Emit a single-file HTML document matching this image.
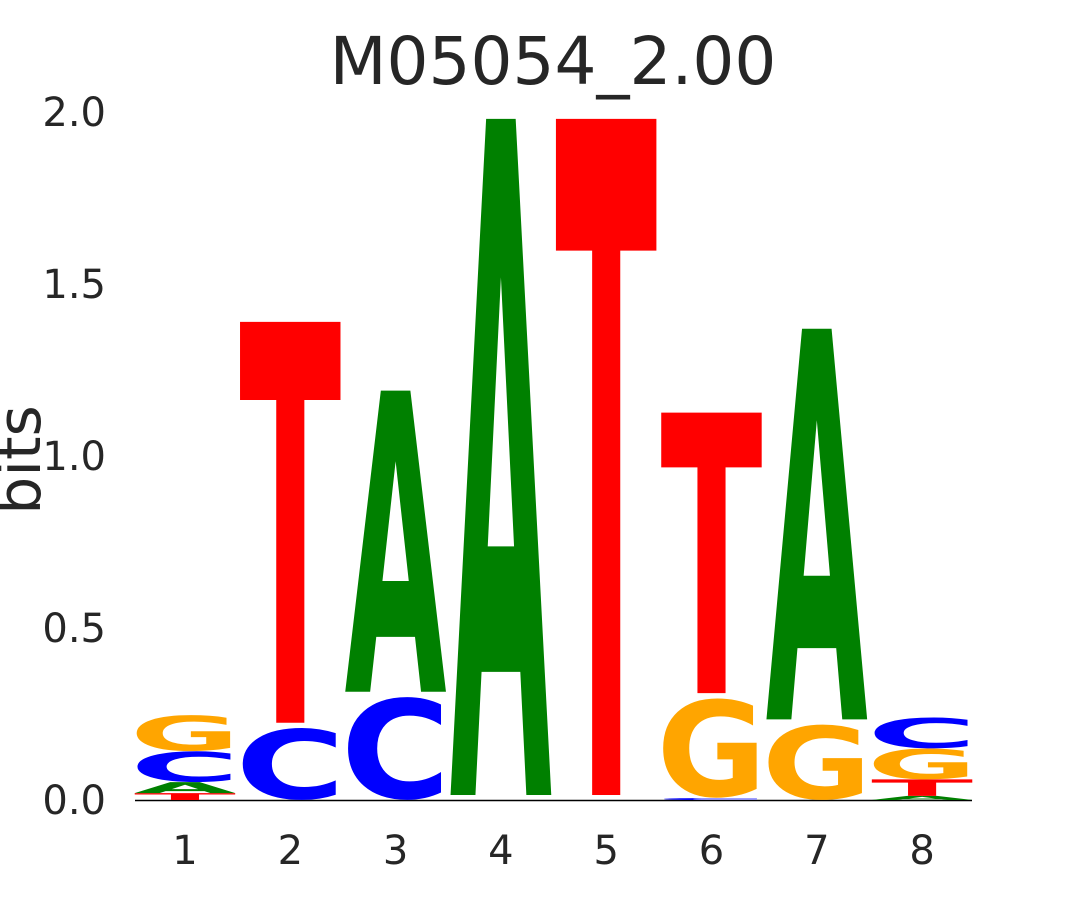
<!DOCTYPE html>
<html><head><meta charset="utf-8"><style>
html,body{margin:0;padding:0;background:#fff;width:1080px;height:900px;overflow:hidden}
svg{display:block}
text{font-family:"DejaVu Sans","Liberation Sans",sans-serif}
</style></head><body>
<svg id="chart" width="1080" height="900" xmlns="http://www.w3.org/2000/svg" overflow="hidden">
<text x="553" y="84" font-size="66" text-anchor="middle" fill="#262626">M05054_2.00</text>
<text transform="translate(40,460) rotate(-90)" font-size="60" text-anchor="middle" fill="#262626">bits</text>
<line x1="135" y1="800.5" x2="972" y2="800.5" stroke="#000" stroke-width="1.5"/>
<g id="yticks"></g><g id="xticks"></g><g id="letters"></g>
</svg>
<script>
const positions=[1,2,3,4,5,6,7,8];
const stackLetters=[["T","A","C","G"],["C","T"],["C","A"],["A"],["T"],["C","G","T"],["G","A"],["A","T","G","C"]];
const stackHeights=[[0.02,0.032,0.09,0.105],[0.21,1.18],[0.30,0.89],[1.98],[1.98],[0.006,0.29,0.83],[0.22,1.15],[0.012,0.048,0.09,0.09]];
const yTickValues=[0,0.5,1,1.5,2];
const yTickLabels=["0.0","0.5","1.0","1.5","2.0"];
const colors={A:"#008000",C:"#0000ff",G:"#ffa500",T:"#ff0000"};
const NS="http://www.w3.org/2000/svg";
const y=v=>800-v*344;
const x=p=>185+(p-1)*105.3;
const yt=document.getElementById('yticks');
yTickValues.forEach((v,i)=>{const t=document.createElementNS(NS,'text');


t.setAttribute('x',106);t.setAttribute('y',y(v)+14);t.setAttribute('font-size',40);t.setAttribute('text-anchor','end');t.setAttribute('fill','#262626');t.textContent=yTickLabels[i];yt.appendChild(t);});
const xt=document.getElementById('xticks');
positions.forEach(p=>{const t=document.createElementNS(NS,'text');


t.setAttribute('x',x(p));t.setAttribute('y',864);t.setAttribute('font-size',40);t.setAttribute('text-anchor','middle');t.setAttribute('fill','#262626');t.textContent=p;xt.appendChild(t);});
const lg=document.getElementById('letters');
positions.forEach((p,i)=>{let base=0;stackLetters[i].forEach((L,j)=>{const h=stackHeights[i][j];
const round=(L==="C"||L==="G");
const hp=h*344-(h>0.5?5:0);const cap=round?76:72.9;
const t=document.createElementNS(NS,'text');


t.setAttribute('font-size',100);t.setAttribute('font-weight','bold');
t.setAttribute('x',0);t.setAttribute('y',0);
t.setAttribute('textLength',round?110:102);t.setAttribute('lengthAdjust','spacingAndGlyphs');
t.setAttribute('fill',colors[L]);
const bot=y(base)-(round?hp*0.02:0)-(h>0.5?5:0);
t.setAttribute('transform','translate('+(x(p)-(round?55:51))+','+bot+') scale(1,'+(hp/cap)+')');
t.textContent=L;lg.appendChild(t);base+=h;});});
</script>
</body></html>
